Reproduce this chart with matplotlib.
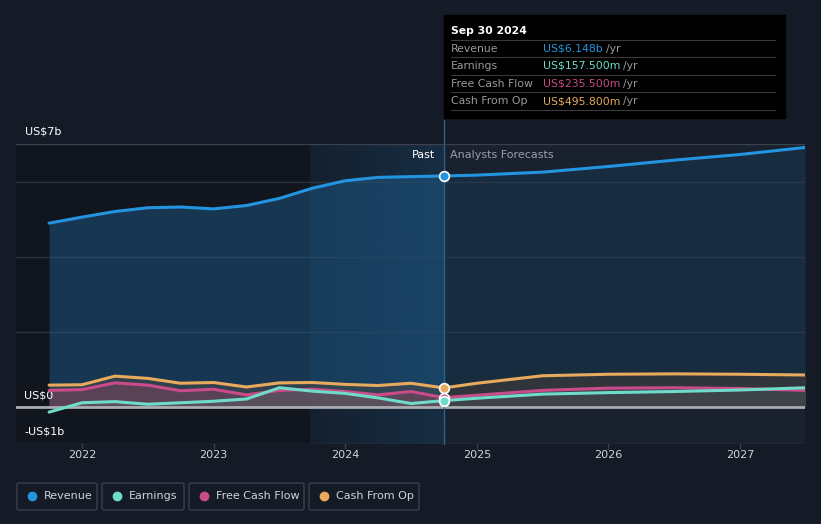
import matplotlib
matplotlib.use('Agg')
import matplotlib.pyplot as plt
import numpy as np

# data (US$ b)
past_t = [2021.75, 2022.0, 2022.25, 2022.5, 2022.75, 2023.0, 2023.25, 2023.5, 2023.75, 2024.0, 2024.25, 2024.5, 2024.75]
revenue_past = [4.89, 5.05, 5.20, 5.30, 5.32, 5.27, 5.36, 5.55, 5.82, 6.02, 6.11, 6.13, 6.148]
earnings_past = [-0.15, 0.10, 0.13, 0.06, 0.10, 0.14, 0.20, 0.50, 0.41, 0.35, 0.23, 0.08, 0.1575]
fcf_past = [0.43, 0.45, 0.63, 0.57, 0.42, 0.46, 0.31, 0.43, 0.46, 0.40, 0.31, 0.40, 0.2355]
cfo_past = [0.57, 0.58, 0.81, 0.75, 0.62, 0.64, 0.52, 0.63, 0.64, 0.59, 0.56, 0.62, 0.4958]

fc_t = [2024.75, 2025.0, 2025.5, 2026.0, 2026.5, 2027.0, 2027.5]
revenue_fc = [6.148, 6.17, 6.25, 6.40, 6.57, 6.72, 6.91]
earnings_fc = [0.1575, 0.22, 0.33, 0.37, 0.40, 0.44, 0.50]
fcf_fc = [0.2355, 0.30, 0.43, 0.49, 0.50, 0.48, 0.43]
cfo_fc = [0.4958, 0.62, 0.82, 0.86, 0.87, 0.86, 0.84]

year_ticks = [2022, 2023, 2024, 2025, 2026, 2027]

names = ['Revenue', 'Earnings', 'Free Cash Flow', 'Cash From Op']
colors = ['#2394df', '#6fdcc9', '#c94b8a', '#e8aa5c']
tip_vals = ['US$6.148b', 'US$157.500m', 'US$235.500m', 'US$495.800m']

W, H = 821, 524
bg = '#151b26'
fig = plt.figure(figsize=(W / 100, H / 100), dpi=100, facecolor=bg)

x0, x1 = 2022 - 66 / 131.6, 2027 + 65 / 131.6
ax = fig.add_axes([16 / W, (H - 444) / H, (805 - 16) / W, (444 - 144) / H])
ax.set_facecolor('none')
ax.set_xlim(x0, x1)
ax.set_ylim(-1, 7)
for s in ax.spines.values():
    s.set_visible(False)
ax.set_xticks([])
ax.set_yticks([])

# background zones
ax.axvspan(x0, 2023.73, color='#11151d', zorder=0, lw=0)
grad = np.zeros((1, 200, 4))
c = matplotlib.colors.to_rgb('#173650')
grad[..., 0], grad[..., 1], grad[..., 2] = c
grad[..., 3] = np.linspace(0.2, 0.7, 200)
ax.imshow(grad, extent=[2023.73, 2024.75, -1, 7], aspect='auto', zorder=0.5)
ax.axvspan(2024.75, x1, color='#18212d', zorder=0, lw=0)

# grid
for g in [2, 4, 6]:
    ax.axhline(g, color='#2a323e', lw=1, zorder=1)
ax.axhline(7, color='#3a414c', lw=1, zorder=1)
ax.axhline(-1, color='#3a414c', lw=1, zorder=1)

# fills
ax.fill_between(past_t, revenue_past, 0, color='#1d5f92', alpha=0.45, lw=0, zorder=2)
ax.fill_between(fc_t, revenue_fc, 0, color='#1d5f92', alpha=0.18, lw=0, zorder=2)
ax.fill_between(past_t, cfo_past, 0, color='#4a4a4a', alpha=0.55, lw=0, zorder=3)
ax.fill_between(fc_t, cfo_fc, 0, color='#3a3a3a', alpha=0.7, lw=0, zorder=3)
ax.fill_between(past_t, fcf_past, 0, color='#8a4560', alpha=0.45, lw=0, zorder=3)
ax.fill_between(fc_t, fcf_fc, 0, color='#555860', alpha=0.4, lw=0, zorder=3)
ax.fill_between(past_t, np.clip(earnings_past, 0, None), 0, color='#5a6a6a', alpha=0.35, lw=0, zorder=3)

ax.axhline(0, color='#a9acb1', lw=2, zorder=4)

pasts = [revenue_past, earnings_past, fcf_past, cfo_past]
fcs = [revenue_fc, earnings_fc, fcf_fc, cfo_fc]
for i in [3, 2, 1, 0]:
    ax.plot(past_t, pasts[i], color=colors[i], lw=2.2, zorder=5, solid_capstyle='round')
    ax.plot(fc_t, fcs[i], color=colors[i], lw=2.2, zorder=5, solid_capstyle='round')
for i in [3, 2, 1, 0]:
    ax.plot([2024.75], [pasts[i][-1]], 'o', ms=7, mfc=colors[i], mec='white', mew=1.2, zorder=6)

ax.axvline(2024.75, color='#2e5f85', lw=1, zorder=4.5, ymax=1.08, clip_on=False)

# y labels
ax.text(25 / W, (H - 132) / H, 'US$7b', transform=fig.transFigure, color='white', fontsize=8, va='center')
ax.text(24 / W, (H - 395) / H, 'US$0', transform=fig.transFigure, color='white', fontsize=8, va='center')
ax.text(24 / W, (H - 432) / H, '-US$1b', transform=fig.transFigure, color='white', fontsize=8, va='center')

# x ticks
for yr in year_ticks:
    ax.plot([yr, yr], [-1, -1.1], color='#3a414c', lw=1, clip_on=False)
    ax.text(yr, -1.3, str(yr), color='#d0d3d8', fontsize=8, ha='center', va='center')

ax.text(2024.68, 6.7, 'Past', color='white', fontsize=8, ha='right', va='center')
ax.text(2024.8, 6.7, 'Analysts Forecasts', color='#9aa0a8', fontsize=8, ha='left', va='center')

# tooltip
fig.patches.append(matplotlib.patches.Rectangle((444 / W, (H - 118) / H), 341 / W, 103 / H,
                   transform=fig.transFigure, color='black', zorder=10))
fig.text(451 / W, (H - 31) / H, 'Sep 30 2024', color='white', fontsize=7.8, fontweight='bold', va='center', zorder=11)
for k, ly in enumerate([40, 57, 75, 92, 110]):
    fig.add_artist(matplotlib.lines.Line2D([451 / W, 775 / W], [(H - ly) / H] * 2, color='#3a3a3a', lw=0.8, zorder=11))
for k, ry in enumerate([48.5, 66, 84, 101]):
    fig.text(451 / W, (H - ry) / H, names[k], color='#9a9a9a', fontsize=7.8, va='center', zorder=11)
    t = fig.text(543 / W, (H - ry) / H, tip_vals[k], color=colors[k], fontsize=7.8, va='center', zorder=11)
    fig.canvas.draw()
    bb = t.get_window_extent()
    fig.text(bb.x1 / W + 3 / W, (H - ry) / H, '/yr', color='#9a9a9a', fontsize=7.8, va='center', zorder=11)

# legend boxes
boxes = [(17, 97), (102, 184), (189, 304), (309, 419)]
for k, (bx0, bx1) in enumerate(boxes):
    fig.patches.append(matplotlib.patches.FancyBboxPatch((bx0 / W, (H - 510) / H), (bx1 - bx0) / W, 27 / H,
                       boxstyle='round,pad=0,rounding_size=0.003', transform=fig.transFigure,
                       fc='none', ec='#3a414c', lw=1))
    fig.add_artist(matplotlib.lines.Line2D([(bx0 + 15) / W], [(H - 496) / H], marker='o', ms=6,
                   color=colors[k], mec=colors[k], lw=0))
    fig.text((bx0 + 27) / W, (H - 496) / H, names[k], color='#d0d3d8', fontsize=8, va='center')

fig.savefig('out.png', dpi=100, facecolor=bg)
